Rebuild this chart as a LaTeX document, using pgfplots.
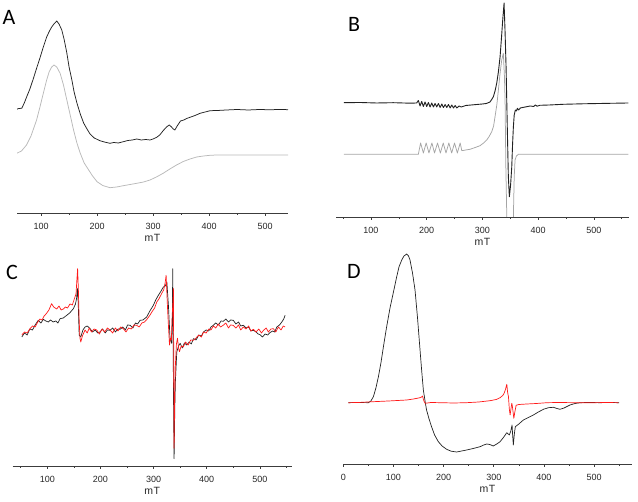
\documentclass[border=0pt]{standalone}
\usepackage{pgfplots}
\pgfplotsset{compat=1.18}
\usepackage{fontspec}
\setmainfont{Liberation Sans}
\newfontfamily\calibri{Carlito}
\definecolor{trace}{RGB}{34,34,34}
\definecolor{grayA}{RGB}{185,185,185}
\definecolor{grayB}{RGB}{165,165,165}
\definecolor{redtr}{RGB}{255,25,25}
\definecolor{axcol}{RGB}{60,60,60}
\pgfplotsset{
  panel/.style={
    scale only axis,
    axis x line=bottom,
    axis y line=none,
    axis line style={-, axcol, line width=0.8pt},
    ymin=0,
    xtick distance=100,
    minor x tick num=1,
    tick align=outside,
    major tick length=3pt,
    minor tick length=2pt,
    every tick/.style={axcol, line width=0.6pt},
    /pgf/number format/assume math mode=true,
    xticklabel style={font=\fontsize{9}{10}\selectfont, anchor=center, yshift=-10pt, text=black!85},
    xlabel={m\kern0.6pt T},
    xlabel style={font=\fontsize{10.5}{12}\selectfont, at={(axis description cs:0.5,0)}, anchor=center, yshift=-25pt, text=black!85},
    clip=true,
  },
  tr/.style={trace, line width=0.75pt, no markers, line join=round},
  trg/.style={line width=0.75pt, no markers, line join=round},
}
\begin{document}
\begin{tikzpicture}
\useasboundingbox (0,0) rectangle (638pt,502pt);
% ---------------- A ----------------
\begin{axis}[panel, at={(17pt,289pt)}, anchor=south west, width=271pt, height=213pt,
  xmin=57, xmax=541, ymax=213]
\addplot[tr] coordinates {
(56.5,103.7) (60,104.5) (65.5,104.7) (70,110) (74,115.7) (80,124) (86,134) (92,144.7) (98,155) (104,166) (110,176) (115,182) (119,186) (123,189) (128,192) (132,189) (137,183) (141,174) (146,160) (150,146) (155,133) (159,121) (164,110) (170,99) (176,90) (182,84) (187.5,79) (195,75) (205,72.3) (213,71) (223,69.7) (230,70.5) (238,70) (247,71.3) (255,72.5) (263,73) (271,74) (279,73) (287,73.5) (294.6,73) (300,74) (306.5,75.7) (312,78) (318,82.3) (324,86) (329,88) (333,86) (336,84) (339,83) (343,87) (349,92) (355,93) (360,94.5) (366,95.7) (375,97.5) (384,99.7) (393,101) (402,102.3) (415,102.5) (431,103) (450,103.5) (470,103) (490,103.5) (510,103.2) (525,103.6) (541,103.3)
};
\addplot[trg, grayA] coordinates {
(56.5,59.7) (65,62) (74,68) (82,77) (92,93) (98,106) (104,119.7) (110,133) (114.5,141.3) (119,146) (123,148) (128,146) (134,139.7) (140,128) (146,113) (152,98) (158,83) (164,70) (170,59.7) (177,50) (185,43) (192,37) (200,31.3) (210,27.5) (223,25.3) (235,26) (247,27.3) (259,28.5) (271,29.7) (283,31) (294.6,33) (306,36) (318,39.7) (330,44) (342,48) (354,51.5) (366,54) (378,56) (390,57) (402,57.7) (414,58) (450,58) (500,58) (541,58)
};
\end{axis}
% ---------------- B ----------------
\begin{axis}[panel, at={(336pt,285pt)}, anchor=south west, width=293pt, height=217pt,
  xmin=37.2, xmax=563, ymax=217]
\addplot[trg, grayB] coordinates {
(51.5,62.7) (100,62.7) (150,62.7) (185,62.7) (189,74) (194,64) (199,74) (204,64) (209.3,74) (214,64) (219.4,74) (224.5,64) (229.6,74) (234.6,64) (239.7,74) (244.8,64) (249.9,74) (255,64) (260,74) (263,66.3) (270,67) (277.7,67.7) (287,69.5) (295.7,71.3) (302,74) (307.7,77) (312,80.5) (316.7,85.3) (320,91) (322.6,100.3) (326,113) (328.6,127) (331.5,143) (334.6,157) (337.5,163.7) (339.5,140) (340.6,117) (342,50) (343.6,3) (344.5,-80) (354,-80) (355.5,0) (357,40) (358.5,57) (361,61) (364.4,62.7) (400,62.7) (450,62.7) (500,62.7) (562,62.7)
};
\addplot[tr, line width=0.9pt] coordinates {
(51.5,114.3) (80,114.5) (110,114) (140,114.3) (170,113.8) (182,114) (185,116.5) (188,111) (191,115.5) (194,110.5) (197,115) (200,110.5) (203,114.5) (206,110) (209,114) (212,110) (215,113.5) (218,110) (221,113.5) (224,109.5) (227,113) (230,109.5) (233,112.5) (236,109.5) (239,112.5) (242,109) (245,112) (248,109) (251,111.5) (254,109) (258,111) (262,110) (270,111.5) (280,112) (290,112.5) (300,113) (307,113.5) (313.6,115) (316.6,117.5) (319.6,120.3) (322.6,126) (325.6,133.7) (328.6,145) (331.6,160) (334,178) (336.4,197) (338.8,214) (340.6,185) (342.4,150) (344.8,83.7) (346.5,40) (348.3,20.3) (350.5,32) (352.6,50) (354,72) (355.5,90) (357,102) (359,107) (361,106) (362.7,108.7) (365,107) (368,109) (372,109.5) (377,110) (385.5,111) (392,110.5) (395,112) (398,110.8) (403,111.7) (420,112) (445,112.7) (480,113.2) (520,113.6) (562,114)
};
\end{axis}
% ---------------- C ----------------
\begin{axis}[panel, at={(12.7pt,36pt)}, anchor=south west, width=279pt, height=212pt,
  xmin=34.8, xmax=560, ymax=212]
\addplot[tr, line width=0.7pt] coordinates {
(52,129) (57,133) (62,131) (67,137) (72,136) (77,141) (83,145.7) (88,143) (92.5,146.7) (97,145) (102,144) (106,146) (111,144) (116,145) (120,143) (124,147.3) (130,148) (136.5,150.7) (142,153) (149,157.3) (153,162) (155,167.3) (156.5,177.7) (158,165) (160,130.7) (163,129) (167,136) (171,139) (175,140) (180,137.7) (185,134) (190,136) (195,133) (199,134) (204,137) (209,133) (213,136) (218,135.7) (223,138) (228,134) (233,137) (237,136.7) (242,139) (247,136) (251,141) (256,140.7) (261,138) (266,143) (270,142) (274.6,145.7) (280,146) (287,149) (293,155) (299.6,160.7) (304,166) (309,170.7) (313,174) (318.5,179) (322,180) (325,184) (328,160) (331,127.3) (334,122.7) (335.5,150) (336,197.3) (337,120) (337.3,84) (338.6,7.3) (340,60) (341,84) (343.7,114) (347,120) (350,122.7) (354,118) (358,123) (362.5,121) (367,124) (371,122) (375,127.3) (380,126) (385,131) (390,130) (394,134) (399,136) (404,135) (408,139) (412.6,140.7) (417,143) (422,141) (427,145) (431.4,144.7) (436,147) (441,144) (445,146) (450,145.7) (455,142) (460,144) (464,140) (469,140.7) (474,138) (479,139) (483,135) (488,135.7) (493,134) (497,132) (500.5,131.3) (505,129) (510,132) (515,131) (519,133.3) (524,135) (528,134) (532,139) (537,141) (541.4,144) (545,147) (547.6,150.7)
};
\addplot[trg, redtr, line width=0.7pt] coordinates {
(52,131) (57,134) (62,133) (67,137) (72,140) (77,139) (82,144) (86,147) (90,146) (94,150) (98,152.3) (103,156) (108,162.3) (112,159) (117.6,157) (122,160) (126,156) (130,157) (134,159) (138,158) (142.6,162) (147,161) (152,169) (154,172) (155.5,185) (157,197.3) (158.5,175) (160,144) (161.5,128) (163,124) (166,130) (171,136) (175,133) (179,138) (183,134) (188,137) (193,136) (198,132) (203,137) (208,134) (213,138) (218,136) (223,133) (228,138) (233,135) (238,139) (243,137.3) (248,134) (253,138) (258,137) (263,141) (268,140.7) (273,139) (278,143) (283,144) (288,147) (293,150.7) (298,155) (302,158) (306,164) (310,167) (315,172.3) (319,176) (322,184) (323.6,190.7) (326,161) (328,140) (330,121) (332,128) (333.5,126) (335,150) (336.5,165) (337.3,177.7) (338,100) (338.6,17.7) (339.5,60) (341,100) (343,122) (345,127.7) (347,118) (348.7,114.3) (352,120) (356,119) (360,124) (365,121) (370,126) (375,125.7) (380,128) (385,131) (390,129) (394,134) (399,133) (404,137) (408,136) (412.6,140) (417,138) (422,142) (426,139) (431,140.7) (436,143) (441,138) (445,141) (450,140.7) (455,138) (460,141) (464,136) (469,139) (474,137) (479,140) (483,135) (488,136.7) (493,134) (498,137) (503,133) (507,135.7) (512,138) (516,134) (521,137) (525.6,137.3) (530,134) (535,139) (540,136) (544,140) (547.6,139)
};
\end{axis}
% ---------------- D ----------------
\begin{axis}[panel, at={(343.3pt,38pt)}, anchor=south west, width=288.4pt, height=214pt,
  xmin=0, xmax=575, ymax=214]
\addplot[tr, line width=0.7pt] coordinates {
(10,61.3) (30,61.5) (50,61.3) (55,63) (60,67.3) (65,76) (70,87.3) (75,101) (80,117.3) (86,136) (93,155.7) (100,172) (106.5,187.3) (111,197) (116.5,204) (121,208) (126.5,210) (130,208) (133,204) (138,191) (143,174) (148,146) (153,114) (156,95) (159.6,74) (163,63) (166,54) (171,45) (176,37.3) (182,29) (189.5,22.3) (197,18) (206,14.7) (215,12.8) (226,12) (236,13) (246,14) (259,15.5) (272.7,17.3) (280,19) (286,20) (292,19.5) (299,18) (306,20) (312.6,22.3) (320,27) (326,31.3) (331,29) (334,33) (336.5,39) (337.5,30) (339,19) (341,30) (343,37.3) (350,40) (359,44) (369,46.5) (379,49) (389,52) (399,54.7) (409,56.3) (419,56.7) (426,55.5) (432,54.7) (440,56) (452,59) (462,60.5) (472,61.3) (490,61.5) (512,61.3) (530,61.5) (550,61.3)
};
\addplot[trg, redtr, line width=0.7pt] coordinates {
(10,61.3) (30,61.5) (60,62.3) (90,63) (126.5,64) (140,65) (153,66.3) (156,67) (158,68) (160,64) (163,60.7) (175,61.5) (193,61.3) (220,61) (246,61.3) (270,62) (292.6,63.3) (305,64.5) (312.6,66.3) (318,68.5) (320.6,70.7) (323,74) (326,79.7) (327.5,72) (329.3,67.3) (331,55) (332.6,49) (334.5,56) (336,60.7) (337,58) (338,54) (340,45.7) (342,52) (344.6,58.7) (350,59.5) (366,60) (385,60.5) (406,61.3) (430,61.5) (459,61.3) (500,61.3) (525,61.5) (548.6,61.3)
};
\end{axis}
% panel letters
\node[font=\calibri\fontsize{22}{24}\selectfont, anchor=center] at (9pt,485pt) {A};
\node[font=\calibri\fontsize{22}{24}\selectfont, anchor=center] at (354pt,478pt) {B};
\node[font=\calibri\fontsize{22}{24}\selectfont, anchor=center] at (12pt,230pt) {C};
\node[font=\calibri\fontsize{22}{24}\selectfont, anchor=center] at (354pt,231pt) {D};
\end{tikzpicture}
\end{document}
